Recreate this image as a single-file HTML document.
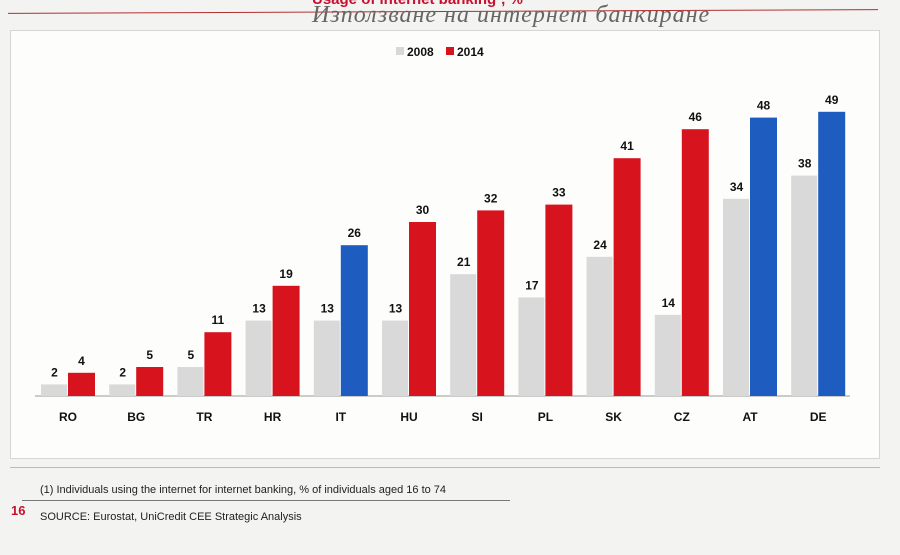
<!DOCTYPE html>
<html><head><meta charset="utf-8"><style>
body{margin:0;width:900px;height:555px;background:#f3f3f1;overflow:hidden;font-family:"Liberation Sans",sans-serif;position:relative}
.abs{position:absolute}
</style></head><body>
<div class="abs" style="left:312px;top:-9px;color:#c8102e;font-weight:bold;font-size:15px">Usage of internet banking¹, %</div>
<div class="abs" style="left:8px;top:11px;width:870px;height:1px;background:#b03030;transform:rotate(-0.25deg)"></div>
<div class="abs" style="left:312px;top:2px;font-family:'Liberation Serif',serif;font-style:italic;font-size:24px;color:#666;letter-spacing:1px">Използване на интернет банкиране</div>
<div class="abs" style="left:10px;top:30px;width:868px;height:427px;background:#fdfdfc;border:1px solid #d6d6d6"></div>
<div class="abs" style="left:10px;top:467px;width:870px;height:1px;background:#bbb"></div>
<div class="abs" style="left:40px;top:484px;font-size:11px;color:#222">(1) Individuals using the internet for internet banking, % of individuals aged 16 to 74</div>
<div class="abs" style="left:22px;top:500px;width:488px;height:1px;background:#777"></div>
<div class="abs" style="left:11px;top:503px;font-size:13px;color:#c8102e;font-weight:bold">16</div>
<div class="abs" style="left:40px;top:511px;font-size:11px;color:#222">SOURCE: Eurostat, UniCredit CEE Strategic Analysis</div>
<svg class="abs" style="left:0;top:0" width="900" height="555">
<g id="legend">
<rect x="396" y="47" width="8" height="8" fill="#d8d8d8"/>
<text x="407" y="56" font-size="12" font-weight="bold" font-family="Liberation Sans, sans-serif" fill="#111">2008</text>
<rect x="446" y="47" width="8" height="8" fill="#d7141e"/>
<text x="457" y="56" font-size="12" font-weight="bold" font-family="Liberation Sans, sans-serif" fill="#111">2014</text>
</g>
<g id="plot"></g>
</svg>
<script>
const categories=["RO","BG","TR","HR","IT","HU","SI","PL","SK","CZ","AT","DE"];
const values2008=[2,2,5,13,13,13,21,17,24,14,34,38];
const values2014=[4,5,11,19,26,30,32,33,41,46,48,49];
const blueCats=["IT","AT","DE"];
const base=396, scale=5.8, x0=68, step=68.2, bw=27;
const xs=i=>x0+i*step, ys=v=>base-v*scale;
const g=document.getElementById('plot'), NS="http://www.w3.org/2000/svg";
function mk(t,a){const e=document.createElementNS(NS,t);for(const k in a)e.setAttribute(k,a[k]);g.appendChild(e);return e;}
const ax=mk('line',{x1:35,x2:850,y1:base,y2:base,stroke:'#999','stroke-width':1});


categories.forEach((c,i)=>{
  const cx=xs(i);
  const b1=mk('rect',{x:cx-bw,y:ys(values2008[i]),width:bw-1,height:values2008[i]*scale,fill:'#d9d9d9'});
  
  
  const b2=mk('rect',{x:cx,y:ys(values2014[i]),width:bw,height:values2014[i]*scale,fill:blueCats.includes(c)?'#1f5cc0':'#d7141e'});
  
  
  const t1=mk('text',{x:cx-bw/2,y:ys(values2008[i])-8,'text-anchor':'middle','font-size':12,'font-weight':'bold','font-family':'Liberation Sans, sans-serif',fill:'#111'});
  t1.textContent=values2008[i];
  
  
  const t2=mk('text',{x:cx+bw/2,y:ys(values2014[i])-8,'text-anchor':'middle','font-size':12,'font-weight':'bold','font-family':'Liberation Sans, sans-serif',fill:'#111'});
  t2.textContent=values2014[i];
  
  
  const tl=mk('text',{x:cx,y:base+25,'text-anchor':'middle','font-size':12,'font-weight':'bold','font-family':'Liberation Sans, sans-serif',fill:'#111'});
  tl.textContent=c;
  
  
});
</script>
</body></html>
